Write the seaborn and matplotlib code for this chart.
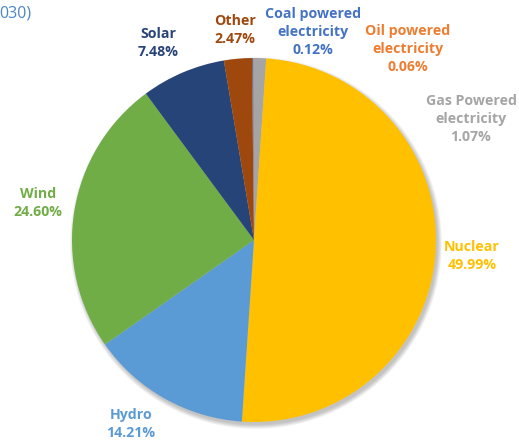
import matplotlib
matplotlib.use("Agg")
import matplotlib.pyplot as plt
from matplotlib.patches import Circle
import seaborn as sns

# Electricity generation mix (share, %), listed clockwise from 12 o'clock
sources = ["Gas Powered\nelectricity", "Nuclear", "Hydro", "Wind", "Solar", "Other",
           "Coal powered\nelectricity", "Oil powered\nelectricity"]
shares = [1.07, 49.99, 14.21, 24.60, 7.48, 2.47, 0.12, 0.06]
colors = ["#A5A5A5", "#FFC000", "#5B9BD5", "#70AD47", "#264478", "#9E480E",
          "#4472C4", "#ED7D31"]
label_colors = ["#A5A5A5", "#FFC000", "#5B9BD5", "#70AD47", "#264478", "#9E480E",
                "#4472C4", "#ED7D31"]
# label anchor points in pixel space (x from left, y from top)
label_xy = [(471, 119), (472, 256), (131, 424), (38, 203), (158, 43), (235, 30),
            (313, 32), (408, 49)]

W, H = 519, 445
sns.set_theme(style="white")
plt.rcParams["font.family"] = ["Open Sans", "DejaVu Sans"]

fig = plt.figure(figsize=(W / 100, H / 100), dpi=100)
ax = fig.add_axes([0, 0, 1, 1])

cx, cy, r = 254, H - 240, 182

# soft drop shadow behind the pie
for i in range(8):
    ax.add_patch(Circle((cx + 2, cy - 3), r + 4 - i * 0.6, color="black",
                        alpha=0.03, lw=0, zorder=0))

ax.pie(shares, colors=colors, startangle=90, counterclock=False,
       center=(cx, cy), radius=r, wedgeprops=dict(linewidth=0),
       frame=True)
ax.set_xlim(0, W)
ax.set_ylim(0, H)
ax.set_aspect("equal")
ax.axis("off")

for name, val, col, (x, y) in zip(sources, shares, label_colors, label_xy):
    ax.text(x, H - y, f"{name}\n{val:.2f}%", color=col, fontsize=10.2,
            fontweight="bold", ha="center", va="center", linespacing=1.33)

# clipped chart title at the top-left edge
ax.text(-1, H - 13, "030)", color="#4A86C8", fontsize=11.5, ha="left", va="center")

fig.savefig("out.png", dpi=100)
